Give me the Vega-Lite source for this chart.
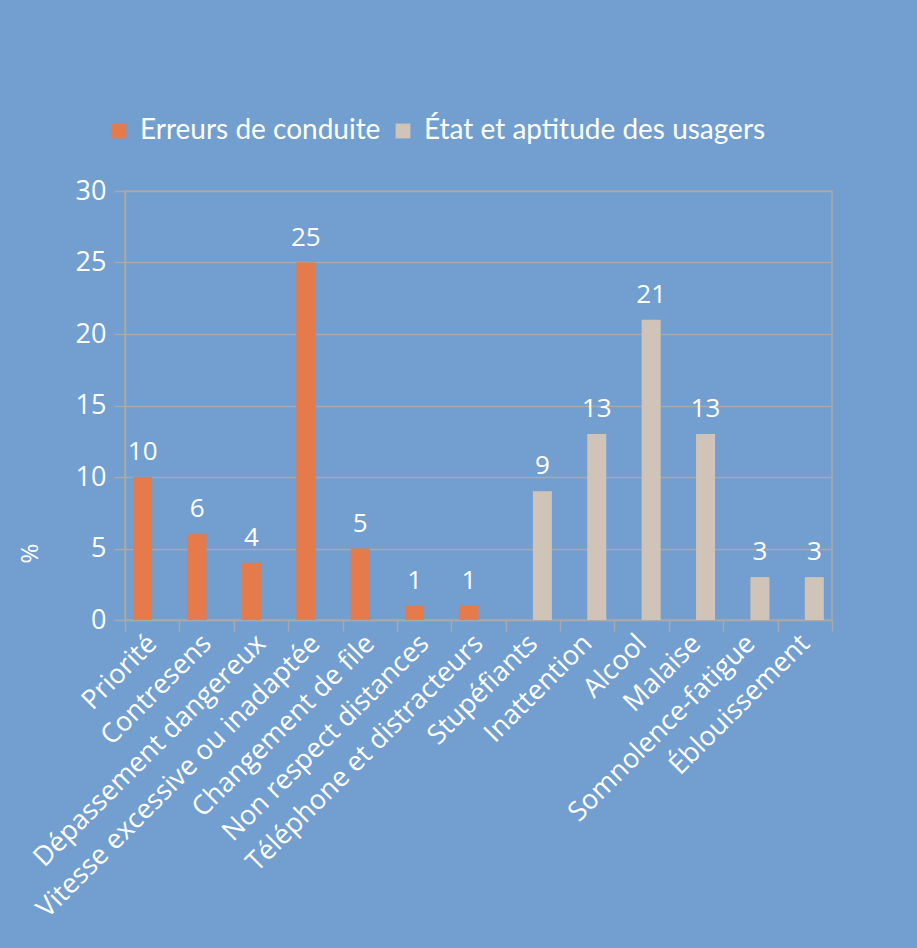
{
  "$schema": "https://vega.github.io/schema/vega-lite/v6.json",
  "autosize": {"type": "none"},
  "width": 707,
  "height": 429,
  "padding": {"left": 125, "top": 191, "right": 85, "bottom": 328},
  "background": "#729fcf",
  "config": {
    "font": "Open Sans",
    "view": {"stroke": "#a9a9a9", "strokeWidth": 1.5},
    "axis": {"labelFont": "Open Sans", "titleFont": "Open Sans"}
  },
  "data": {
    "values": [
      {"cause": "Priorité", "groupe": "Erreurs de conduite", "pct": 10},
      {"cause": "Contresens", "groupe": "Erreurs de conduite", "pct": 6},
      {"cause": "Dépassement dangereux", "groupe": "Erreurs de conduite", "pct": 4},
      {"cause": "Vitesse excessive ou inadaptée", "groupe": "Erreurs de conduite", "pct": 25},
      {"cause": "Changement de file", "groupe": "Erreurs de conduite", "pct": 5},
      {"cause": "Non respect distances", "groupe": "Erreurs de conduite", "pct": 1},
      {"cause": "Téléphone et distracteurs", "groupe": "Erreurs de conduite", "pct": 1},
      {"cause": "Stupéfiants", "groupe": "État et aptitude des usagers", "pct": 9},
      {"cause": "Inattention", "groupe": "État et aptitude des usagers", "pct": 13},
      {"cause": "Alcool", "groupe": "État et aptitude des usagers", "pct": 21},
      {"cause": "Malaise", "groupe": "État et aptitude des usagers", "pct": 13},
      {"cause": "Somnolence-fatigue", "groupe": "État et aptitude des usagers", "pct": 3},
      {"cause": "Éblouissement", "groupe": "État et aptitude des usagers", "pct": 3}
    ]
  },
  "encoding": {
    "x": {
      "field": "cause",
      "type": "nominal",
      "sort": null,
      "scale": {"paddingInner": 0, "paddingOuter": 0},
      "axis": {
        "title": null,
        "labelAngle": -45,
        "labelAlign": "right",
        "labelBaseline": "middle",
        "labelFontSize": 27,
        "labelColor": "white",
        "labelLimit": 0,
        "labelPadding": 8,
        "labelOverlap": false,
        "tickBand": "extent",
        "tickSize": 11,
        "tickColor": "#a9a9a9",
        "tickWidth": 1.5,
        "domainColor": "#a9a9a9",
        "domainWidth": 1.5,
        "grid": false
      }
    },
    "xOffset": {
      "field": "groupe",
      "type": "nominal",
      "scale": {"domain": ["Erreurs de conduite", "État et aptitude des usagers"], "paddingInner": 0, "paddingOuter": 0.43}
    },
    "y": {
      "field": "pct",
      "type": "quantitative",
      "scale": {"domain": [0, 30], "nice": false},
      "axis": {
        "title": "%",
        "titleColor": "white",
        "titleFontSize": 24,
        "titleFontWeight": "normal",
        "titleX": -95,
        "titleY": 362,
        "titleAngle": -90,
        "titleAlign": "center",
        "titleBaseline": "middle",
        "values": [0, 5, 10, 15, 20, 25, 30],
        "labelFontSize": 27,
        "labelColor": "white",
        "labelPadding": 8,
        "tickSize": 11,
        "tickColor": "#a9a9a9",
        "tickWidth": 1.5,
        "domainColor": "#a9a9a9",
        "domainWidth": 1.5,
        "gridColor": "#a9a9a9",
        "gridWidth": 1.5
      }
    }
  },
  "layer": [
    {
      "mark": {"type": "bar"},
      "encoding": {
        "color": {
          "field": "groupe",
          "type": "nominal",
          "scale": {"domain": ["Erreurs de conduite", "État et aptitude des usagers"], "range": ["#e57a4b", "#d0c3b7"]},
          "legend": {
            "title": null,
            "orient": "none",
            "legendX": -20,
            "legendY": -74,
            "direction": "horizontal",
            "symbolType": "square",
            "symbolSize": 220,
            "symbolStrokeWidth": 0,
            "labelFontSize": 28,
            "labelColor": "white",
            "labelOffset": 7,
            "labelLimit": 0,
            "columnPadding": 8,
            "labelFont": "Lato"
          }
        }
      }
    },
    {
      "mark": {"type": "text", "baseline": "bottom", "dy": -12, "fontSize": 26, "color": "white", "font": "Open Sans"},
      "encoding": {"text": {"field": "pct", "type": "quantitative"}}
    }
  ]
}
